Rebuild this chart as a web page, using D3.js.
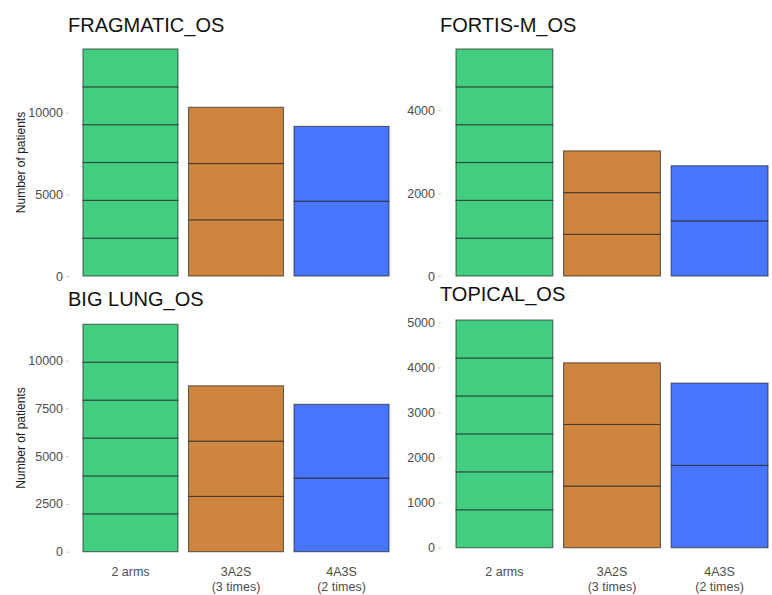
<!DOCTYPE html>
<html>
<head>
<meta charset="utf-8">
<script src="https://cdn.jsdelivr.net/npm/d3@7"></script>
<style>
  body { margin: 0; background: #fff; }
  svg { display: block; font-family: "Liberation Sans", Arial, sans-serif; }
</style>
</head>
<body>
<svg width="772" height="595"></svg>
<script>
// data
var trials = ["FRAGMATIC_OS", "FORTIS-M_OS", "BIG LUNG_OS", "TOPICAL_OS"];
var designs = ["2 arms", "3A2S", "4A3S"];
var designSub = ["", "(3 times)", "(2 times)"];
var segments = [6, 3, 2];          // number of stacked equal pieces per bar
var colors = ["#43CD80", "#CD853F", "#4876FF"];

var fragmatic = [13900, 10330, 9160];
var fortis = [5480, 3020, 2660];
var bigLung = [11900, 8680, 7710];
var topical = [5050, 4100, 3650];
var totals = [fragmatic, fortis, bigLung, topical];

var ticks = [
  [0, 5000, 10000],
  [0, 2000, 4000],
  [0, 2500, 5000, 7500, 10000],
  [0, 1000, 2000, 3000, 4000, 5000]
];

// panel layout (pixels)
var panels = [
  {x0: 83,  x1: 389, y0: 276,   y1: 49,    axisX: 69,  titleY: 32,  left: true,  bottom: false},
  {x0: 456, x1: 768, y0: 276,   y1: 49,    axisX: 441, titleY: 32,  left: false, bottom: false},
  {x0: 83,  x1: 389, y0: 551.7, y1: 324.3, axisX: 69,  titleY: 306, left: true,  bottom: true},
  {x0: 456, x1: 768, y0: 547.7, y1: 320,   axisX: 441, titleY: 301, left: false, bottom: true}
];

var svg = d3.select("svg");

panels.forEach(function(p, i) {
  var g = svg.append("g");

  var x = d3.scaleBand()
      .domain(designs)
      .range([p.x0, p.x1])
      .paddingInner(0.1)
      .paddingOuter(0);

  var y = d3.scaleLinear()
      .domain([0, d3.max(totals[i])])
      .range([p.y0, p.y1]);

  // stacked equal pieces
  designs.forEach(function(d, j) {
    var n = segments[j], piece = totals[i][j] / n;
    var pieces = d3.range(n).map(function(k) { return {lo: k * piece, hi: (k + 1) * piece}; });
    g.selectAll(null)
      .data(pieces)
      .enter().append("rect")
        .attr("x", x(d))
        .attr("width", x.bandwidth())
        .attr("y", function(s) { return y(s.hi); })
        .attr("height", function(s) { return y(s.lo) - y(s.hi); })
        .attr("fill", colors[j])
        .attr("stroke", "#1e1e1e")
        .attr("stroke-opacity", 0.65)
        .attr("stroke-width", 1.1);
  });

  // y axis
  var ax = g.append("g")
      .attr("transform", "translate(" + p.axisX + ",0)")
      .call(d3.axisLeft(y).tickValues(ticks[i]).tickSize(3).tickPadding(3).tickFormat(d3.format("d")));
  ax.select(".domain").remove();
  ax.selectAll("line").attr("stroke", "#ccc");
  ax.selectAll("text")
      .attr("fill", "#4d4d4d")
      .style("font-size", "12.5px")
      .style("font-family", "Liberation Sans, Arial, sans-serif");

  if (p.left) {
    g.append("text")
      .attr("transform", "translate(25," + ((p.y0 + p.y1) / 2) + ") rotate(-90)")
      .attr("text-anchor", "middle")
      .attr("fill", "#1a1a1a")
      .style("font-size", "12px")
      .text("Number of patients");
  }

  if (p.bottom) {
    designs.forEach(function(d, j) {
      var cx = x(d) + x.bandwidth() / 2;
      g.append("text")
        .attr("x", cx).attr("y", 576)
        .attr("text-anchor", "middle")
        .attr("fill", "#4d4d4d")
        .style("font-size", "12.5px")
        .text(d);
      if (designSub[j]) {
        g.append("text")
          .attr("x", cx).attr("y", 591)
          .attr("text-anchor", "middle")
          .attr("fill", "#4d4d4d")
          .style("font-size", "12.5px")
          .text(designSub[j]);
      }
    });
  }

  g.append("text")
    .attr("x", p.left ? 68 : 440)
    .attr("y", p.titleY)
    .attr("fill", "#111")
    .style("font-size", "20px")
    .text(trials[i]);
});
</script>
</body>
</html>
